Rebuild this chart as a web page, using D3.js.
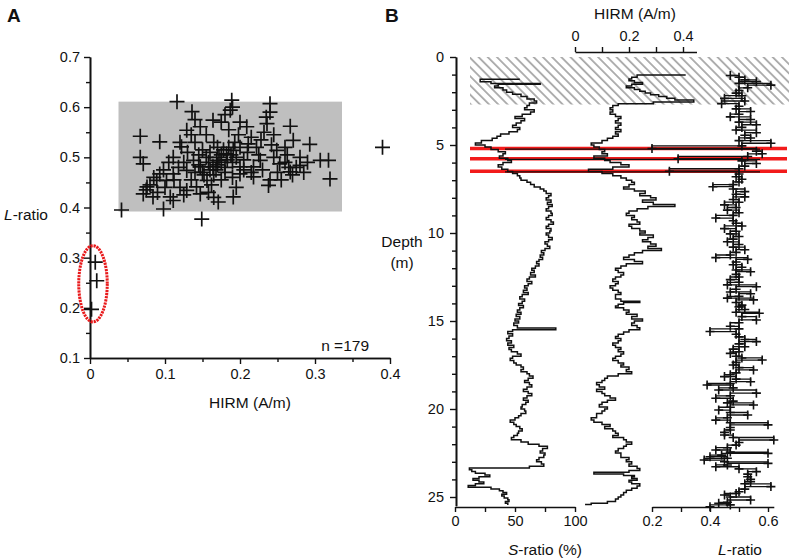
<!DOCTYPE html>
<html>
<head>
<meta charset="utf-8">
<script src="https://cdn.jsdelivr.net/npm/d3@7"></script>
<style>
  body { margin: 0; background: #fff; }
  svg { display: block; font-family: "Liberation Sans", Arial, sans-serif; }
</style>
</head>
<body>
<div id="chart"></div>
<script>
// ---- Panel A: HIRM (A/m) vs L-ratio, one point per sample ----
const scatterPts = [
  [0.116,0.611],[0.136,0.591],[0.189,0.614],[0.187,0.594],[0.24,0.607],[0.067,0.542],[0.093,0.531],
  [0.067,0.50],[0.071,0.487],[0.042,0.395],[0.098,0.397],[0.149,0.377],[0.171,0.411],[0.191,0.421],
  [0.318,0.494],[0.32,0.457],[0.307,0.494],[0.293,0.526],[0.267,0.562],[0.271,0.534],[0.236,0.567],
  [0.238,0.444],[0.28,0.484],[0.267,0.471],[0.209,0.561],[0.211,0.527],[0.164,0.574],[0.147,0.561],
  [0.129,0.554],[0.122,0.521],[0.111,0.50],[0.076,0.441],[0.071,0.427],[0.084,0.421],[0.107,0.421],
  [0.111,0.414],[0.089,0.454],[0.093,0.467],[0.129,0.434],[0.147,0.427],[0.156,0.454],[0.169,0.494],
  [0.182,0.507],[0.191,0.514],[0.2,0.481],[0.218,0.481],[0.227,0.494],[0.249,0.514],[0.253,0.487],
  [0.218,0.461],[0.2,0.467],[0.164,0.481],[0.147,0.481],[0.138,0.494],[0.129,0.474],[0.111,0.467],
  [0.102,0.454],[0.142,0.441],[0.135,0.545],[0.14,0.53],[0.15,0.515],[0.155,0.5],[0.158,0.49],
  [0.16,0.475],[0.165,0.465],[0.17,0.485],[0.172,0.5],[0.175,0.49],[0.178,0.515],[0.18,0.48],
  [0.183,0.495],[0.185,0.52],[0.188,0.505],[0.19,0.49],[0.193,0.53],[0.195,0.5],[0.198,0.545],
  [0.185,0.555],[0.175,0.57],[0.18,0.585],[0.165,0.53],[0.155,0.545],[0.145,0.505],[0.125,0.49],
  [0.118,0.48],[0.105,0.49],[0.098,0.475],[0.085,0.46],[0.08,0.445],[0.075,0.435],[0.12,0.44],
  [0.135,0.455],[0.15,0.47],[0.162,0.445],[0.175,0.455],[0.19,0.46],[0.205,0.495],[0.21,0.51],
  [0.215,0.47],[0.222,0.52],[0.228,0.535],[0.232,0.55],[0.235,0.58],[0.242,0.525],[0.245,0.5],
  [0.25,0.47],[0.255,0.455],[0.26,0.49],[0.263,0.505],[0.27,0.465],[0.275,0.48],[0.285,0.47],
  [0.29,0.49],[0.245,0.545],[0.225,0.505],[0.205,0.475],[0.195,0.44],[0.12,0.53],[0.13,0.51],
  [0.14,0.47],[0.145,0.485],[0.16,0.51],[0.17,0.52],[0.175,0.505],[0.168,0.475],[0.152,0.465],
  [0.112,0.455],[0.1,0.44],[0.09,0.43],[0.158,0.43],[0.165,0.42],[0.125,0.425],[0.18,0.47],
  [0.2,0.52],[0.215,0.54],[0.23,0.475],[0.24,0.455],[0.26,0.52],[0.28,0.5],[0.265,0.48],
  [0.14,0.575],[0.2,0.57],[0.19,0.6],[0.24,0.59],
  [0.007,0.291],[0.009,0.254],[0.002,0.197],[0.39,0.52]
];
const boxA = { h0: 0.038, h1: 0.336, l0: 0.392, l1: 0.611 };   // grey field
const ellipseA = { h: 0.004, l: 0.248, rh: 0.019, rl: 0.076 }; // red dotted ellipse
const xTicksA = [0, 0.1, 0.2, 0.3, 0.4];
const xMinorA = [0.05, 0.15, 0.25, 0.35];
const yTicksA = [0.1, 0.2, 0.3, 0.4, 0.5, 0.6, 0.7];
const yMinorA = [0.15, 0.25, 0.35, 0.45, 0.55, 0.65];

// ---- Panel B: downcore profiles, [depth (m), value] ----
const sRatio = [
  [1.27,54],[1.4,21],[1.5,30],[1.55,71],[1.65,36],[1.75,33],[1.88,40],[2.0,43],[2.12,48],[2.25,55],
  [2.38,60],[2.5,66],[2.62,68],[2.75,62],[2.88,60],[3.0,58],[3.12,66],[3.25,63],[3.38,56],[3.5,50],
  [3.62,58],[3.75,55],[3.88,51],[4.0,48],[4.12,54],[4.25,52],[4.38,45],[4.5,38],[4.62,35],[4.75,31],
  [4.88,22],[5.0,17],[5.12,25],[5.25,30],[5.38,36],[5.5,42],[5.62,40],[5.75,37],[5.88,44],[6.0,47],
  [6.12,40],[6.25,36],[6.38,39],[6.5,44],[6.62,48],[6.75,52],[6.88,54],[7.0,55],[7.12,60],[7.25,63],
  [7.38,66],[7.5,71],[7.62,74],[7.75,76],[7.88,80],[8.0,78],[8.12,76],[8.25,80],[8.38,77],[8.5,81],
  [8.62,78],[8.75,76],[8.88,80],[9.0,81],[9.12,78],[9.25,76],[9.38,80],[9.5,82],[9.62,78],[9.75,76],
  [9.88,80],[10.0,79],[10.12,76],[10.25,78],[10.38,81],[10.5,78],[10.62,75],[10.75,77],[10.88,79],
  [11.0,75],[11.12,72],[11.25,74],[11.38,71],[11.5,73],[11.62,70],[11.75,68],[11.88,70],[12.0,67],
  [12.12,64],[12.25,66],[12.38,63],[12.5,67],[12.62,62],[12.75,60],[12.88,64],[13.0,61],[13.12,58],
  [13.25,60],[13.38,57],[13.5,61],[13.62,56],[13.75,54],[13.88,58],[14.0,56],[14.12,53],[14.25,57],
  [14.38,54],[14.5,52],[14.62,55],[14.75,51],[14.88,54],[15.0,50],[15.12,53],[15.25,49],[15.4,52],
  [15.5,84],[15.6,48],[15.72,44],[15.85,48],[16.0,45],[16.12,43],[16.25,47],[16.38,44],[16.5,49],
  [16.62,45],[16.75,47],[16.88,52],[17.0,55],[17.12,48],[17.25,46],[17.38,49],[17.5,51],[17.62,55],
  [17.75,57],[17.88,55],[18.0,60],[18.12,62],[18.25,65],[18.38,61],[18.5,58],[18.62,62],[18.75,64],
  [18.88,60],[19.0,57],[19.12,61],[19.25,64],[19.38,60],[19.5,57],[19.62,61],[19.75,59],[19.88,56],
  [20.0,55],[20.12,58],[20.25,59],[20.38,55],[20.5,53],[20.62,50],[20.75,46],[20.88,49],[21.0,51],
  [21.12,54],[21.25,56],[21.38,53],[21.5,52],[21.62,49],[21.75,47],[21.88,55],[22.0,61],[22.12,70],
  [22.25,77],[22.38,73],[22.5,71],[22.62,75],[22.75,74],[22.88,70],[23.0,68],[23.12,72],[23.25,74],
  [23.35,62],[23.45,12],[23.55,14],[23.65,17],[23.75,25],[23.85,29],[23.95,20],[24.05,15],[24.15,20],
  [24.25,24],[24.35,17],[24.45,11],[24.55,30],[24.65,37],[24.75,40],[24.85,43],[24.95,39],[25.05,41],
  [25.15,44],[25.25,45],[25.35,42],[25.45,44]
];
const hirmB = [
  [1.02,0.41],[1.15,0.23],[1.25,0.21],[1.35,0.20],[1.45,0.22],[1.55,0.25],[1.65,0.21],[1.75,0.19],
  [1.85,0.22],[1.95,0.24],[2.05,0.26],[2.15,0.28],[2.25,0.31],[2.35,0.34],[2.45,0.37],[2.55,0.44],
  [2.65,0.29],[2.75,0.16],[2.88,0.14],[3.0,0.13],[3.12,0.14],[3.25,0.13],[3.38,0.15],[3.5,0.17],
  [3.62,0.16],[3.75,0.15],[3.88,0.17],[4.0,0.16],[4.12,0.15],[4.25,0.17],[4.38,0.15],[4.5,0.16],
  [4.62,0.14],[4.75,0.12],[4.88,0.10],[5.0,0.06],[5.12,0.07],[5.25,0.09],[5.38,0.11],[5.5,0.10],
  [5.62,0.12],[5.75,0.07],[5.88,0.11],[6.0,0.13],[6.12,0.17],[6.25,0.20],[6.38,0.14],[6.5,0.05],
  [6.62,0.10],[6.75,0.14],[6.88,0.17],[7.0,0.19],[7.12,0.21],[7.25,0.22],[7.38,0.20],[7.5,0.18],
  [7.62,0.22],[7.75,0.26],[7.88,0.24],[8.0,0.28],[8.12,0.30],[8.25,0.25],[8.38,0.29],[8.5,0.37],
  [8.62,0.27],[8.75,0.23],[8.88,0.20],[9.0,0.19],[9.12,0.22],[9.25,0.21],[9.38,0.23],[9.5,0.24],
  [9.62,0.20],[9.75,0.21],[9.88,0.24],[10.0,0.26],[10.12,0.24],[10.25,0.29],[10.38,0.27],[10.5,0.25],
  [10.62,0.28],[10.75,0.30],[10.88,0.27],[11.0,0.32],[11.12,0.25],[11.25,0.22],[11.38,0.20],[11.5,0.18],
  [11.62,0.22],[11.75,0.25],[11.88,0.19],[12.0,0.17],[12.12,0.15],[12.25,0.16],[12.38,0.18],[12.5,0.17],
  [12.62,0.15],[12.75,0.14],[12.88,0.16],[13.0,0.15],[13.12,0.13],[13.25,0.14],[13.38,0.16],[13.5,0.17],
  [13.62,0.15],[13.75,0.15],[13.88,0.17],[13.95,0.24],[14.05,0.18],[14.15,0.16],[14.25,0.15],[14.38,0.18],
  [14.5,0.20],[14.62,0.19],[14.75,0.23],[14.88,0.21],[15.0,0.25],[15.12,0.22],[15.25,0.21],[15.38,0.23],
  [15.5,0.24],[15.62,0.20],[15.75,0.18],[15.88,0.16],[16.0,0.15],[16.12,0.17],[16.25,0.16],[16.38,0.14],
  [16.5,0.15],[16.62,0.17],[16.75,0.16],[16.88,0.18],[17.0,0.17],[17.12,0.15],[17.25,0.14],[17.38,0.16],
  [17.5,0.18],[17.62,0.17],[17.75,0.20],[17.88,0.19],[18.0,0.21],[18.12,0.16],[18.25,0.12],[18.38,0.11],
  [18.5,0.10],[18.62,0.08],[18.75,0.09],[18.88,0.11],[19.0,0.08],[19.12,0.10],[19.25,0.11],[19.38,0.13],
  [19.5,0.15],[19.62,0.12],[19.75,0.10],[19.88,0.09],[20.0,0.12],[20.12,0.11],[20.25,0.10],[20.38,0.08],
  [20.5,0.08],[20.62,0.06],[20.75,0.07],[20.88,0.10],[21.0,0.13],[21.12,0.11],[21.25,0.14],[21.38,0.15],
  [21.5,0.16],[21.62,0.14],[21.75,0.18],[21.88,0.19],[22.0,0.21],[22.12,0.19],[22.25,0.18],[22.38,0.16],
  [22.5,0.15],[22.62,0.17],[22.75,0.17],[22.88,0.20],[23.0,0.19],[23.12,0.21],[23.25,0.20],[23.38,0.23],
  [23.5,0.24],[23.6,0.20],[23.7,0.07],[23.78,0.18],[23.85,0.22],[23.95,0.21],[24.05,0.23],[24.15,0.20],
  [24.25,0.21],[24.38,0.24],[24.5,0.23],[24.62,0.21],[24.75,0.19],[24.88,0.18],[25.0,0.17],[25.12,0.16],
  [25.25,0.15],[25.35,0.12],[25.42,0.06],[25.47,0.04]
];
const lRatioB = [
  [1.05,0.47],[1.15,0.50],[1.3,0.52],[1.4,0.56],[1.5,0.50],[1.6,0.61],[1.75,0.53],[1.9,0.50],[2.05,0.49],
  [2.2,0.51],[2.35,0.45],[2.5,0.52],[2.65,0.44],[2.8,0.50],[2.95,0.49],[3.1,0.54],[3.25,0.50],[3.4,0.47],
  [3.55,0.54],[3.7,0.50],[3.85,0.56],[4.0,0.51],[4.15,0.49],[4.3,0.56],[4.45,0.52],[4.6,0.54],[4.75,0.50],
  [4.9,0.61],[5.05,0.51],[5.2,0.20],[5.35,0.56],[5.5,0.58],[5.65,0.53],[5.78,0.29],[5.9,0.51],[6.05,0.56],
  [6.2,0.52],[6.35,0.50],[6.49,0.26],[6.65,0.50],[6.8,0.49],[6.95,0.51],[7.1,0.50],[7.25,0.48],[7.37,0.41],
  [7.5,0.48],[7.65,0.52],[7.8,0.49],[7.95,0.52],[8.1,0.48],[8.25,0.50],[8.4,0.45],[8.55,0.49],[8.7,0.46],
  [8.85,0.50],[9.0,0.48],[9.15,0.42],[9.3,0.48],[9.45,0.49],[9.6,0.51],[9.75,0.45],[9.9,0.49],[10.05,0.47],
  [10.2,0.50],[10.35,0.48],[10.5,0.46],[10.65,0.50],[10.8,0.48],[10.95,0.52],[11.1,0.49],[11.25,0.47],
  [11.4,0.42],[11.5,0.53],[11.65,0.49],[11.8,0.48],[11.95,0.51],[12.1,0.49],[12.2,0.54],[12.35,0.49],
  [12.5,0.50],[12.65,0.47],[12.8,0.50],[12.95,0.46],[13.05,0.56],[13.2,0.49],[13.35,0.47],[13.45,0.54],
  [13.6,0.50],[13.7,0.46],[13.8,0.55],[13.95,0.49],[14.1,0.51],[14.2,0.50],[14.35,0.52],[14.5,0.49],
  [14.56,0.57],[14.75,0.51],[14.94,0.56],[15.1,0.50],[15.3,0.47],[15.45,0.50],[15.6,0.40],[15.75,0.49],
  [15.9,0.50],[16.05,0.52],[16.17,0.56],[16.3,0.50],[16.46,0.52],[16.6,0.48],[16.75,0.50],[16.84,0.47],
  [17.0,0.49],[17.1,0.51],[17.22,0.58],[17.35,0.49],[17.5,0.48],[17.65,0.50],[17.78,0.55],[17.95,0.49],
  [18.05,0.47],[18.16,0.45],[18.3,0.49],[18.45,0.54],[18.55,0.47],[18.64,0.39],[18.8,0.48],[18.92,0.43],
  [19.1,0.56],[19.25,0.47],[19.39,0.42],[19.55,0.48],[19.65,0.46],[19.77,0.55],[19.9,0.47],[20.06,0.43],
  [20.2,0.47],[20.34,0.53],[20.5,0.46],[20.63,0.42],[20.78,0.47],[20.9,0.60],[21.05,0.47],[21.19,0.47],
  [21.33,0.45],[21.48,0.45],[21.62,0.48],[21.76,0.62],[21.9,0.50],[22.05,0.49],[22.2,0.46],[22.33,0.42],
  [22.45,0.47],[22.52,0.60],[22.62,0.44],[22.71,0.40],[22.8,0.46],[22.9,0.38],[23.0,0.45],[23.09,0.60],
  [23.18,0.46],[23.28,0.42],[23.4,0.50],[23.56,0.56],[23.7,0.53],[23.85,0.53],[24.0,0.54],[24.13,0.54],
  [24.25,0.52],[24.41,0.61],[24.55,0.52],[24.7,0.50],[24.8,0.49],[24.89,0.45],[25.0,0.47],[25.17,0.54],
  [25.3,0.46],[25.36,0.43],[25.45,0.47],[25.55,0.40]
];
const tephraDepths = [5.2, 5.78, 6.49];   // red marker lines
const hatchDepth = [0, 2.7];              // hatched top interval
const depthTicks = [0, 5, 10, 15, 20, 25];
const depthMinor = [1,2,3,4,6,7,8,9,11,12,13,14,16,17,18,19,21,22,23,24];
const sTicks = [0, 25, 50, 75, 100];
const hTicks = [0, 0.1, 0.2, 0.3, 0.4];
const lTicks = [0.2, 0.3, 0.4, 0.5, 0.6];

const W = 796, H = 560;
const svg = d3.select("#chart").append("svg").attr("width", W).attr("height", H);
const ink = "#111";
const FS = 14.5;   // tick labels
const TS = 15.5;   // axis titles

const defs = svg.append("defs");
defs.append("pattern")
  .attr("id", "hatch").attr("patternUnits", "userSpaceOnUse")
  .attr("width", 6.5).attr("height", 6.5)
  .attr("patternTransform", "rotate(45)")
  .append("line").attr("x1", 0).attr("y1", 1).attr("x2", 6.5).attr("y2", 1)
  .attr("stroke", "#a8a8a8").attr("stroke-width", 1.8);

function crossPath(x, y, a) {
  return `M${x - a},${y}h${2 * a}M${x},${y - a}v${2 * a}`;
}
function styleAxis(g) {
  g.selectAll("path.domain").attr("stroke", ink).attr("stroke-width", 1.6);
  g.selectAll(".tick line").attr("stroke", ink).attr("stroke-width", 1.4);
  g.selectAll(".tick text").attr("fill", ink).style("font-size", FS + "px")
    .style("font-family", '"Liberation Sans", Arial, sans-serif');
}
const fmtA = d => d === 0 ? "0" : d.toFixed(1);

// ================= Panel A =================
const xA = d3.scaleLinear().domain([0, 0.4]).range([90, 390]);
const yA = d3.scaleLinear().domain([0.1, 0.7]).range([358, 57]);
const gA = svg.append("g");

gA.append("rect")
  .attr("x", xA(boxA.h0)).attr("y", yA(boxA.l1))
  .attr("width", xA(boxA.h1) - xA(boxA.h0)).attr("height", yA(boxA.l0) - yA(boxA.l1))
  .attr("fill", "#bfbfbf");

gA.append("g").attr("transform", "translate(0,358)")
  .call(d3.axisBottom(xA).tickValues(xMinorA).tickSize(4).tickSizeOuter(0).tickFormat(""))
  .call(styleAxis);
gA.append("g").attr("transform", "translate(0,358)")
  .call(d3.axisBottom(xA).tickValues(xTicksA).tickSize(6).tickSizeOuter(0).tickPadding(5).tickFormat(fmtA))
  .call(styleAxis);
gA.append("g").attr("transform", "translate(90,0)")
  .call(d3.axisLeft(yA).tickValues(yMinorA).tickSize(4).tickSizeOuter(0).tickFormat(""))
  .call(styleAxis);
gA.append("g").attr("transform", "translate(90,0)")
  .call(d3.axisLeft(yA).tickValues(yTicksA).tickSize(6).tickSizeOuter(0).tickPadding(4).tickFormat(d3.format(".1f")))
  .call(styleAxis);

gA.append("g").selectAll("path").data(scatterPts).join("path")
  .attr("d", d => crossPath(xA(d[0]), yA(d[1]), 7.5))
  .attr("stroke", ink).attr("stroke-width", 1.7).attr("fill", "none");

gA.append("ellipse")
  .attr("cx", xA(ellipseA.h)).attr("cy", yA(ellipseA.l))
  .attr("rx", xA(ellipseA.rh) - xA(0)).attr("ry", yA(0) - yA(ellipseA.rl))
  .attr("fill", "none").attr("stroke", "#e8191b").attr("stroke-width", 3)
  .attr("stroke-dasharray", "2.2,0.9");

gA.append("text").attr("x", 7).attr("y", 22).text("A")
  .style("font-size", "19px").style("font-weight", "bold").attr("fill", ink);
const lLabA = gA.append("text").attr("x", 48).attr("y", 220).attr("text-anchor", "end")
  .style("font-size", TS + "px").attr("fill", ink);
lLabA.append("tspan").style("font-style", "italic").text("L");
lLabA.append("tspan").text("-ratio");
gA.append("text").attr("x", 250).attr("y", 408).attr("text-anchor", "middle")
  .style("font-size", TS + "px").attr("fill", ink).text("HIRM (A/m)");
gA.append("text").attr("x", 369).attr("y", 351).attr("text-anchor", "end")
  .style("font-size", TS + "px").attr("fill", ink).text("n =179");

// ================= Panel B =================
const yB = d3.scaleLinear().domain([0, 25.5]).range([57, 57 + 25.5 * 17.6]);
const sX = d3.scaleLinear().domain([0, 100]).range([455, 575]);
const hX = d3.scaleLinear().domain([0, 0.45]).range([575, 575 + 0.45 * 270]);
const lX = d3.scaleLinear().domain([0.2, 0.62]).range([652, 652 + 0.42 * 290]);
const gB = svg.append("g");

gB.append("rect")
  .attr("x", 470).attr("y", yB(hatchDepth[0]))
  .attr("width", 789 - 470).attr("height", yB(hatchDepth[1]) - yB(hatchDepth[0]))
  .attr("fill", "url(#hatch)");

gB.append("g").selectAll("line").data(tephraDepths).join("line")
  .attr("x1", 470).attr("x2", 787).attr("y1", d => yB(d)).attr("y2", d => yB(d))
  .attr("stroke", "#f21b1b").attr("stroke-width", 3.4);
gB.append("g").selectAll("line").data(tephraDepths).join("line")
  .attr("x1", 505).attr("x2", 760).attr("y1", d => yB(d) + 0.6).attr("y2", d => yB(d) + 0.6)
  .attr("stroke", "#111").attr("stroke-width", 1.3);

const stepLine = xs => d3.line().x(d => xs(d[1])).y(d => yB(d[0])).curve(d3.curveStepAfter);
gB.append("path").datum(sRatio).attr("d", stepLine(sX))
  .attr("fill", "none").attr("stroke", ink).attr("stroke-width", 1.5);
gB.append("path").datum(hirmB).attr("d", stepLine(hX))
  .attr("fill", "none").attr("stroke", ink).attr("stroke-width", 1.5);
gB.append("path").datum(lRatioB).attr("d", stepLine(lX))
  .attr("fill", "none").attr("stroke", ink).attr("stroke-width", 1.3);
gB.append("g").selectAll("path").data(lRatioB).join("path")
  .attr("d", d => crossPath(lX(d[1]), yB(d[0]), 4.5))
  .attr("stroke", ink).attr("stroke-width", 1.6).attr("fill", "none");

// depth axis
gB.append("g").attr("transform", "translate(456,0)")
  .call(d3.axisLeft(yB).tickValues(depthMinor).tickSize(4).tickSizeOuter(0).tickFormat(""))
  .call(styleAxis);
gB.append("g").attr("transform", "translate(456,0)")
  .call(d3.axisLeft(yB).tickValues(depthTicks).tickSize(6).tickSizeOuter(0).tickPadding(6))
  .call(styleAxis);
// S-ratio axis
gB.append("g").attr("transform", "translate(0,507)")
  .call(d3.axisBottom(sX).tickValues(sTicks).tickSize(5).tickSizeOuter(0).tickPadding(4)
    .tickFormat(d => d % 50 === 0 ? d : ""))
  .call(styleAxis);
// HIRM axis (top)
gB.append("g").attr("transform", "translate(0,52)")
  .call(d3.axisTop(hX).tickValues(hTicks).tickSize(5).tickSizeOuter(0).tickPadding(6)
    .tickFormat(d => [0, 0.2, 0.4].includes(d) ? fmtA(d) : ""))
  .call(styleAxis);
// L-ratio axis
gB.append("g").attr("transform", "translate(0,507)")
  .call(d3.axisBottom(lX).tickValues(lTicks).tickSize(5).tickSizeOuter(0).tickPadding(4)
    .tickFormat(d => [0.2, 0.4, 0.6].includes(d) ? d.toFixed(1) : ""))
  .call(styleAxis);

gB.append("text").attr("x", 385).attr("y", 22).text("B")
  .style("font-size", "19px").style("font-weight", "bold").attr("fill", ink);
gB.append("text").attr("x", 635).attr("y", 19).attr("text-anchor", "middle")
  .style("font-size", TS + "px").attr("fill", ink).text("HIRM (A/m)");
gB.append("text").attr("x", 402).attr("y", 247).attr("text-anchor", "middle")
  .style("font-size", TS + "px").attr("fill", ink).text("Depth");
gB.append("text").attr("x", 402).attr("y", 268).attr("text-anchor", "middle")
  .style("font-size", TS + "px").attr("fill", ink).text("(m)");
const sLab = gB.append("text").attr("x", 545).attr("y", 555).attr("text-anchor", "middle")
  .style("font-size", TS + "px").attr("fill", ink);
sLab.append("tspan").style("font-style", "italic").text("S");
sLab.append("tspan").text("-ratio (%)");
const lLab = gB.append("text").attr("x", 740).attr("y", 555).attr("text-anchor", "middle")
  .style("font-size", TS + "px").attr("fill", ink);
lLab.append("tspan").style("font-style", "italic").text("L");
lLab.append("tspan").text("-ratio");
</script>
</body>
</html>
